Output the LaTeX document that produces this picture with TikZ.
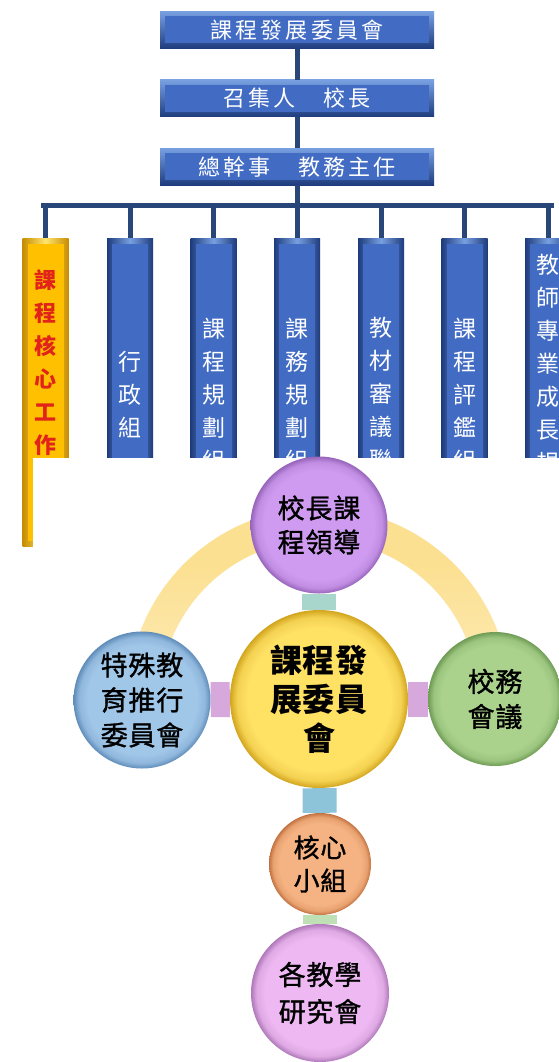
\documentclass[tikz,border=0pt]{standalone}
\usepackage{fontspec}
\setmainfont{Noto Sans CJK TC}
\newfontfamily\cjkbox[LetterSpace=14]{Noto Sans CJK TC}
\newfontfamily\cjkcol{Noto Sans CJK TC}
\newfontfamily\cjkcirc[LetterSpace=3,FakeBold=1.2]{Noto Sans CJK TC}
\newfontfamily\cjkcen[LetterSpace=3]{Noto Sans CJK TC}
\usetikzlibrary{backgrounds}
\definecolor{navyc}{RGB}{40,70,120}
\definecolor{boxhi}{RGB}{120,160,225}
\definecolor{boxlo}{RGB}{30,60,125}
\definecolor{boxface}{RGB}{66,108,195}
\definecolor{yelhi}{RGB}{255,230,110}
\definecolor{yello}{RGB}{200,140,0}
\definecolor{yelface}{RGB}{255,192,0}
\definecolor{redtxt}{RGB}{225,35,25}
\definecolor{ringtop}{RGB}{252,224,145}
\definecolor{ringbot}{RGB}{254,246,228}
\definecolor{purpM}{RGB}{206,155,240}
\definecolor{purpD}{RGB}{150,100,185}
\definecolor{yelM}{RGB}{255,225,100}
\definecolor{yelD}{RGB}{210,165,30}
\definecolor{bluM}{RGB}{160,198,232}
\definecolor{bluD}{RGB}{95,140,185}
\definecolor{grnM}{RGB}{170,210,140}
\definecolor{grnD}{RGB}{110,155,85}
\definecolor{orgM}{RGB}{245,178,130}
\definecolor{orgD}{RGB}{195,115,65}
\definecolor{pnkM}{RGB}{238,185,242}
\definecolor{pnkD}{RGB}{175,120,185}
\definecolor{tealbar}{RGB}{168,214,205}
\definecolor{mauvebar}{RGB}{215,168,220}
\definecolor{bluebar}{RGB}{142,196,218}
\definecolor{greenbar}{RGB}{190,224,180}
\pgfdeclareradialshading{bevpurp}{\pgfpoint{0bp}{0bp}}{color(0bp)=(purpM);color(20bp)=(purpM);color(23bp)=(purpM!75!purpD);color(25bp)=(purpD);color(50bp)=(purpD)}
\pgfdeclareradialshading{bevyel}{\pgfpoint{0bp}{0bp}}{color(0bp)=(yelM);color(20bp)=(yelM);color(23bp)=(yelM!75!yelD);color(25bp)=(yelD);color(50bp)=(yelD)}
\pgfdeclareradialshading{bevblu}{\pgfpoint{0bp}{0bp}}{color(0bp)=(bluM);color(20bp)=(bluM);color(23bp)=(bluM!75!bluD);color(25bp)=(bluD);color(50bp)=(bluD)}
\pgfdeclareradialshading{bevgrn}{\pgfpoint{0bp}{0bp}}{color(0bp)=(grnM);color(20bp)=(grnM);color(23bp)=(grnM!75!grnD);color(25bp)=(grnD);color(50bp)=(grnD)}
\pgfdeclareradialshading{bevorg}{\pgfpoint{0bp}{0bp}}{color(0bp)=(orgM);color(20bp)=(orgM);color(23bp)=(orgM!75!orgD);color(25bp)=(orgD);color(50bp)=(orgD)}
\pgfdeclareradialshading{bevpnk}{\pgfpoint{0bp}{0bp}}{color(0bp)=(pnkM);color(20bp)=(pnkM);color(23bp)=(pnkM!75!pnkD);color(25bp)=(pnkD);color(50bp)=(pnkD)}
\pgfdeclareverticalshading{ringfade}{100bp}{color(0bp)=(white);color(44bp)=(white);color(50bp)=(ringbot);color(58bp)=(ringtop!80!white);color(68bp)=(ringtop);color(100bp)=(ringtop)}
\pgfdeclarelayer{bglayer}
\pgfdeclarelayer{connlayer}
\pgfsetlayers{bglayer,connlayer,main}
\tikzset{
  conn/.style={line width=5pt, color=navyc},
  topbox/.style={top color=boxhi, bottom color=boxlo, minimum width=274pt, minimum height=37pt,
    inner sep=0pt, text=white, font=\cjkbox\fontsize{22}{22}\selectfont,
    path picture={\fill[boxface] ([shift={(5pt,-5pt)}]path picture bounding box.north west)
      rectangle ([shift={(-5pt,5pt)}]path picture bounding box.south east);}},
  colbar/.style={left color=boxlo, right color=boxlo, middle color=boxhi, minimum width=46pt, minimum height=310pt,
    inner sep=0pt,
    path picture={\fill[boxface] ([shift={(5pt,-6pt)}]path picture bounding box.north west)
      rectangle ([shift={(-5pt,5pt)}]path picture bounding box.south east);}},
  ycolbar/.style={left color=yello, right color=yello, middle color=yelhi, minimum width=46pt, minimum height=308pt,
    inner sep=0pt,
    path picture={\fill[yelface] ([shift={(5pt,-6pt)}]path picture bounding box.north west)
      rectangle ([shift={(-5pt,5pt)}]path picture bounding box.south east);}},
  coltext/.style={align=center, inner sep=0pt, text=white, font=\cjkcol\fontsize{23}{33}\selectfont},
  ball/.style={circle, inner sep=0pt, align=center, text=black},
}
\begin{document}
\begin{tikzpicture}[x=1pt, y=-1pt]
\useasboundingbox (0,0) rectangle (558,1062);
\begin{pgfonlayer}{bglayer}
\fill[white] (0,0) rectangle (558,1062);
% top boxes
\node[topbox] (b1) at (297,30) {課程發展委員會};
\node[topbox] (b2) at (297,98.5) {召集人　校長};
\node[topbox] (b3) at (297,166.5) {總幹事　教務主任};
\coordinate (hl) at (43,205);
\coordinate (hr) at (551,205);
% columns
\node[ycolbar] (c1) at (45.5,392) {};
\node[colbar] (c2) at (130,393) {};
\node[colbar] (c3) at (213.5,393) {};
\node[colbar] (c4) at (297,393) {};
\node[colbar] (c5) at (381,393) {};
\node[colbar] (c6) at (464.5,393) {};
\node[colbar] (c7) at (548,393) {};
\draw[conn] (b1.south) -- (b2.north);
\draw[conn] (b2.south) -- (b3.north);
\draw[conn] (b3.south) -- (b3.south |- hl);
\draw[conn, line cap=rect] (hl) -- (hr);
\foreach \c in {c1,c2,c3,c4,c5,c6,c7} \draw[conn] (\c.north |- hl) -- (\c.north);
\node[coltext, text=redtxt, font=\cjkcol\bfseries\fontsize{22}{33}\selectfont] (t1) at (45.5,362.5) {課\\程\\核\\心\\工\\作};
\node[coltext] (t2) at (130,395) {行\\政\\組};
\node[coltext] (t3) at (213.5,394) {課\\程\\規\\劃\\組};
\node[coltext] (t4) at (297,394) {課\\務\\規\\劃\\組};
\node[coltext] (t5) at (381,394) {教\\材\\審\\議\\聯};
\node[coltext] (t6) at (464.5,394) {課\\程\\評\\鑑\\組};
\node[coltext] (t7) at (548,364) {教\\師\\專\\業\\成\\長\\規};
% white overlay
\fill[white] (33,458) rectangle (560,1064);
% ring
\coordinate (rc) at (319,699);
\shade[even odd rule, shading=ringfade] (rc) circle (191pt) (rc) circle (159pt);
\end{pgfonlayer}
% circles
\node[ball, minimum size=137pt, shading=bevpurp, font=\cjkcirc\fontsize{27}{34}\selectfont] (top) at (319,525) {校長課\\程領導};
\node[ball, minimum size=178pt, shading=bevyel, font=\cjkcen\bfseries\fontsize{32}{39}\selectfont] (cen) at (319,699) {課程發\\展委員\\會};
\node[ball, minimum size=137pt, shading=bevblu, font=\cjkcirc\fontsize{27}{35}\selectfont] (lft) at (142,700) {特殊教\\育推行\\委員會};
\node[ball, minimum size=134pt, shading=bevgrn, font=\cjkcirc\fontsize{27}{35}\selectfont] (rgt) at (495,699) {校務\\會議};
\node[ball, minimum size=102pt, shading=bevorg, font=\cjkcirc\fontsize{26}{33}\selectfont] (core) at (320,864) {核心\\小組};
\node[ball, minimum size=138pt, shading=bevpnk, font=\cjkcirc\fontsize{27}{37}\selectfont] (res) at (320,993) {各教學\\研究會};
\begin{pgfonlayer}{connlayer}
\draw[line width=34pt, tealbar] (top) -- (cen);
\draw[line width=35pt, mauvebar] (lft) -- (cen);
\draw[line width=35pt, mauvebar] (cen) -- (rgt);
\draw[line width=34pt, bluebar] (cen) -- (core);
\draw[line width=34pt, greenbar] (core) -- (res);
\end{pgfonlayer}
\end{tikzpicture}
\end{document}
